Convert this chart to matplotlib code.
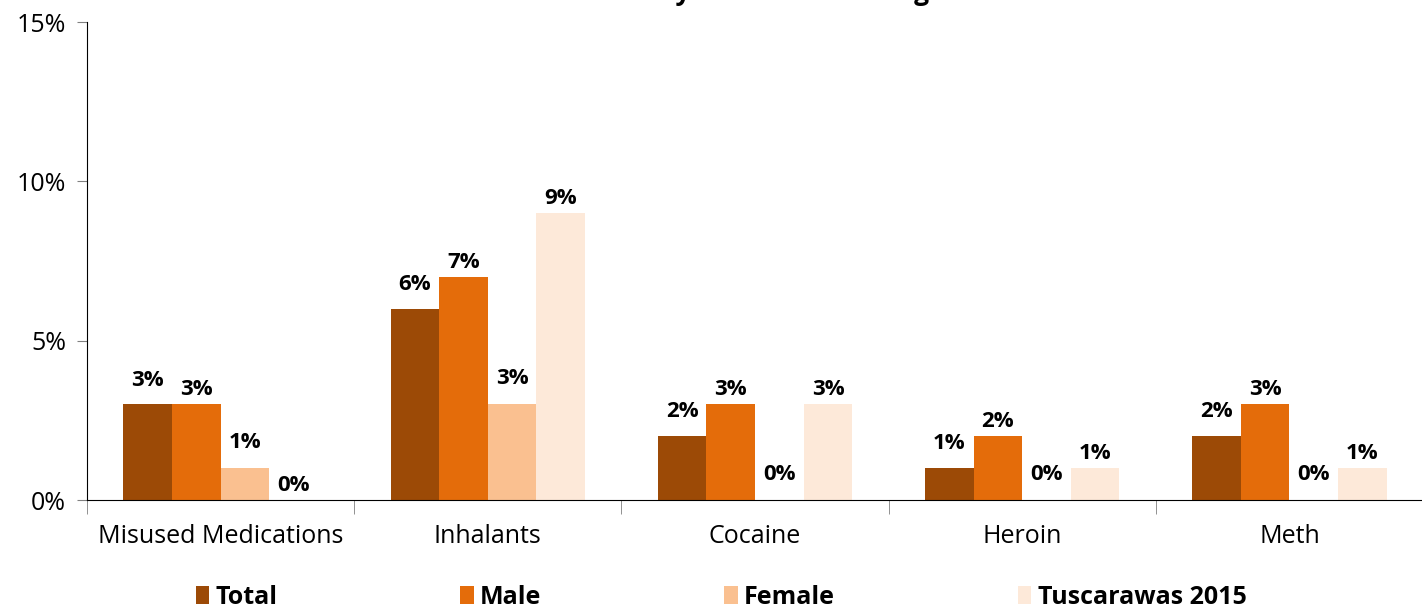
import numpy as np
import matplotlib.pyplot as plt
from matplotlib.patches import Patch

plt.rcParams['font.family'] = ['Open Sans', 'DejaVu Sans']

# Data
categories = ["Misused Medications", "Inhalants", "Cocaine", "Heroin", "Meth"]
series_names = ["Total", "Male", "Female", "Tuscarawas 2015"]
total = [3, 6, 2, 1, 2]
male = [3, 7, 3, 2, 3]
female = [1, 3, 0, 0, 0]
tusc_2015 = [0, 9, 3, 1, 1]

colors = ["#9C4A06", "#E46C0A", "#FAC090", "#FDE9D9"]
label_offsets = [10, 3, 11, 3]  # points above bar, per series

fig = plt.figure(figsize=(14.22, 6.09), dpi=100)
ax = fig.add_axes([87 / 1422, 1 - 500 / 609, 1336 / 1422, 478 / 609])

x = np.arange(len(categories))
width = 0.182
values = [total, male, female, tusc_2015]
for i, (vals, col) in enumerate(zip(values, colors)):
    pos = x + (i - 1.5) * width
    ax.bar(pos, vals, width=width, color=col, edgecolor="none")
    for px, v in zip(pos, vals):
        ax.annotate(f"{v}%", (px, v), xytext=(0, label_offsets[i]),
                    textcoords="offset points", ha="center", va="bottom",
                    fontsize=16, fontweight="bold")

ax.set_xlim(-0.5, len(categories) - 0.5)
ax.set_ylim(0, 15)
ax.set_yticks([0, 5, 10, 15])
ax.set_yticklabels(["0%", "5%", "10%", "15%"], fontsize=18)
ax.set_xticks(x)
ax.set_xticklabels(categories, fontsize=18)
ax.set_xticks(np.arange(-0.5, len(categories)), minor=True)
ax.tick_params(axis="x", which="major", length=0, pad=17)
ax.tick_params(axis="x", which="minor", length=10, color="#808080")
ax.tick_params(axis="y", length=7, color="#808080", pad=8)

for s in ["top", "right"]:
    ax.spines[s].set_visible(False)
ax.spines["left"].set_color("black")
ax.spines["bottom"].set_color("black")

# Title (mostly cut off at top in the original)
fig.text(0.5, 1.0, "Tuscarawas County Youth Other Drug Use",
         ha="center", va="baseline", fontsize=19, fontweight="bold")

handles = [Patch(facecolor=c, edgecolor="none") for c in colors]
fig.legend(handles, series_names, loc="center", bbox_to_anchor=(0.507, 1 - 597 / 609),
           ncol=4, frameon=False, prop={"size": 18, "weight": "bold"},
           handlelength=0.55, handleheight=0.75, handletextpad=0.25, columnspacing=7.3,
           borderaxespad=0)

fig.savefig("out.png", dpi=100)
